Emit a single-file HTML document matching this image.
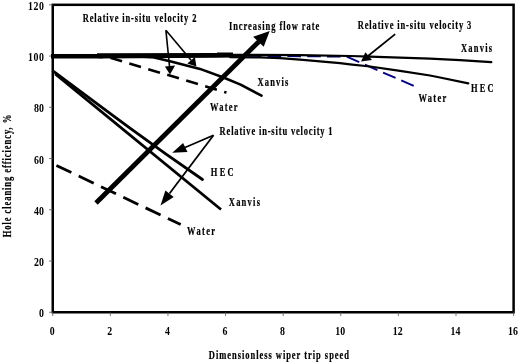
<!DOCTYPE html>
<html><head><meta charset="utf-8"><style>
html,body{margin:0;padding:0;background:#fff;}
svg{display:block;will-change:transform;}
text{font-family:"Liberation Serif",serif;font-weight:bold;font-size:11.6px;fill:#000;}
.b{stroke:#000;stroke-width:0.22px;}
</style></head><body>
<svg width="520" height="363" viewBox="0 0 520 363">
<rect x="52.75" y="4.81" width="460.85" height="307.44" fill="none" stroke="#000" stroke-width="2.5"/>
<line x1="49" y1="312.25" x2="52.75" y2="312.25" stroke="#555" stroke-width="0.8"/>
<text transform="translate(43.9,317.45) scale(0.85,1)" text-anchor="end">0</text>
<line x1="49" y1="261.01" x2="52.75" y2="261.01" stroke="#555" stroke-width="0.8"/>
<text transform="translate(43.9,266.21) scale(0.85,1)" text-anchor="end">20</text>
<line x1="49" y1="209.77" x2="52.75" y2="209.77" stroke="#555" stroke-width="0.8"/>
<text transform="translate(43.9,214.97) scale(0.85,1)" text-anchor="end">40</text>
<line x1="49" y1="158.53" x2="52.75" y2="158.53" stroke="#555" stroke-width="0.8"/>
<text transform="translate(43.9,163.73) scale(0.85,1)" text-anchor="end">60</text>
<line x1="49" y1="107.29" x2="52.75" y2="107.29" stroke="#555" stroke-width="0.8"/>
<text transform="translate(43.9,112.49) scale(0.85,1)" text-anchor="end">80</text>
<line x1="49" y1="56.05" x2="52.75" y2="56.05" stroke="#555" stroke-width="0.8"/>
<text transform="translate(28.1,61.25) scale(0.85,1)" textLength="18.71" lengthAdjust="spacing">100</text>
<line x1="49" y1="4.81" x2="52.75" y2="4.81" stroke="#555" stroke-width="0.8"/>
<text transform="translate(28.1,10.01) scale(0.85,1)" textLength="18.71" lengthAdjust="spacing">120</text>
<line x1="52.75" y1="312.25" x2="52.75" y2="316" stroke="#555" stroke-width="0.8"/>
<text transform="translate(52.15,335.4) scale(0.85,1)" text-anchor="middle">0</text>
<line x1="110.36" y1="312.25" x2="110.36" y2="316" stroke="#555" stroke-width="0.8"/>
<text transform="translate(109.76,335.4) scale(0.85,1)" text-anchor="middle">2</text>
<line x1="167.96" y1="312.25" x2="167.96" y2="316" stroke="#555" stroke-width="0.8"/>
<text transform="translate(167.36,335.4) scale(0.85,1)" text-anchor="middle">4</text>
<line x1="225.57" y1="312.25" x2="225.57" y2="316" stroke="#555" stroke-width="0.8"/>
<text transform="translate(224.97,335.4) scale(0.85,1)" text-anchor="middle">6</text>
<line x1="283.17" y1="312.25" x2="283.17" y2="316" stroke="#555" stroke-width="0.8"/>
<text transform="translate(282.57,335.4) scale(0.85,1)" text-anchor="middle">8</text>
<line x1="340.78" y1="312.25" x2="340.78" y2="316" stroke="#555" stroke-width="0.8"/>
<text transform="translate(340.18,335.4) scale(0.85,1)" text-anchor="middle">10</text>
<line x1="398.39" y1="312.25" x2="398.39" y2="316" stroke="#555" stroke-width="0.8"/>
<text transform="translate(397.79,335.4) scale(0.85,1)" text-anchor="middle">12</text>
<line x1="455.99" y1="312.25" x2="455.99" y2="316" stroke="#555" stroke-width="0.8"/>
<text transform="translate(455.39,335.4) scale(0.85,1)" text-anchor="middle">14</text>
<line x1="513.60" y1="312.25" x2="513.60" y2="316" stroke="#555" stroke-width="0.8"/>
<text transform="translate(513.00,335.4) scale(0.85,1)" text-anchor="middle">16</text>
<text class="b" transform="translate(82.70,22.30) scale(0.73,1)" textLength="155.73" lengthAdjust="spacing">Relative in-situ velocity 2</text>
<text class="b" transform="translate(228.95,29.60) scale(0.73,1)" textLength="123.77" lengthAdjust="spacing">Increasing flow rate</text>
<text class="b" transform="translate(357.70,29.20) scale(0.73,1)" textLength="155.69" lengthAdjust="spacing">Relative in-situ velocity 3</text>
<text class="b" transform="translate(460.88,51.50) scale(0.73,1)" textLength="42.81" lengthAdjust="spacing">Xanvis</text>
<text class="b" transform="translate(471.03,91.50) scale(0.73,1)" textLength="30.97" lengthAdjust="spacing">HEC</text>
<text class="b" transform="translate(418.59,101.70) scale(0.73,1)" textLength="37.76" lengthAdjust="spacing">Water</text>
<text class="b" transform="translate(257.40,86.30) scale(0.73,1)" textLength="42.34" lengthAdjust="spacing">Xanvis</text>
<text class="b" transform="translate(209.95,111.00) scale(0.73,1)" textLength="37.86" lengthAdjust="spacing">Water</text>
<text class="b" transform="translate(219.62,134.50) scale(0.73,1)" textLength="154.77" lengthAdjust="spacing">Relative in-situ velocity 1</text>
<text class="b" transform="translate(210.85,175.80) scale(0.73,1)" textLength="31.21" lengthAdjust="spacing">HEC</text>
<text class="b" transform="translate(228.79,205.90) scale(0.73,1)" textLength="42.72" lengthAdjust="spacing">Xanvis</text>
<text class="b" transform="translate(187.06,235.00) scale(0.73,1)" textLength="38.45" lengthAdjust="spacing">Water</text>
<text class="b" transform="translate(208.86,358.50) scale(0.73,1)" textLength="191.94" lengthAdjust="spacing">Dimensionless wiper trip speed</text>
<!-- axis titles -->
<text class="b" transform="translate(10.5,237.3) rotate(-90) scale(0.73,1)" textLength="167.8" lengthAdjust="spacing">Hole cleaning efficiency, %</text>
<!-- labels -->

<!-- vel-3 water blue dashed -->
<polyline points="413.7,85.9 346.5,56.6 230,55.7" fill="none" stroke="#000080" stroke-width="1.9" stroke-dasharray="13.6 6.2"/>
<!-- band near 100 -->
<polygon points="51,54.1 97,54.1 97,53.2 217,53.0 217,52.6 233,52.6 233,57.6 217,57.8 97,58.4 51,58.5" fill="#000"/>
<!-- vel-3 Xanvis -->
<polyline points="230,54.9 300,55.1 350,56 370,56.7 400,57.6 430,58.6 460,60.1 491.3,62.1" fill="none" stroke="#000" stroke-width="2.2" stroke-linecap="round" stroke-linejoin="round"/>
<!-- vel-3 HEC -->
<polyline points="230,57.1 260,57.4 280,58.2 300,59.6 320,61.3 340,63.1 350,64.3 370,66.5 400,70.8 430,75.5 440,77.5 468.3,83.4" fill="none" stroke="#000" stroke-width="2.2" stroke-linecap="round" stroke-linejoin="round"/>
<!-- vel-2 Xanvis -->
<polyline points="140,56.5 152,57.1 170,61.2 200,68.9 222.8,77.2 240.6,84.6 261.5,95.7" fill="none" stroke="#000" stroke-width="2.6" stroke-linecap="round" stroke-linejoin="round"/>
<!-- vel-2 water dashed -->
<polyline points="90.6,56.2 110.2,57.8 226.5,92.6" fill="none" stroke="#000" stroke-width="2.6" stroke-dasharray="12.2 7.6"/>
<!-- vel-1 HEC, Xanvis -->
<polyline points="53.2,71.2 110,113.3 130,128.2 165,153.4 202.5,179.5" fill="none" stroke="#000" stroke-width="2.8" stroke-linecap="round" stroke-linejoin="round"/>
<line x1="55.2" y1="73.9" x2="221" y2="209.5" stroke="#000" stroke-width="2.8"/>
<!-- vel-1 water dashed -->
<line x1="56.4" y1="165.4" x2="180.7" y2="224.6" stroke="#000" stroke-width="2.8" stroke-dasharray="16.6 8.1"/>
<!-- big arrow -->
<line x1="96" y1="203" x2="259" y2="41.5" stroke="#000" stroke-width="4.8"/>
<polygon points="269.7,31 253.2,36.7 263.7,46.8" fill="#000"/>
<!-- annotation arrows vel-2 -->
<line x1="165.9" y1="30.3" x2="169.6" y2="67" stroke="#000" stroke-width="1.6"/>
<polygon points="170,74.4 164.9,66.6 175.1,65.6" fill="#000"/>
<line x1="165.9" y1="30.3" x2="191.1" y2="60.2" stroke="#000" stroke-width="1.6"/>
<polygon points="196.4,66.4 187.3,63.4 194.9,56.9" fill="#000"/>
<!-- vel-3 annotation -->
<line x1="395.2" y1="34.1" x2="368" y2="56" stroke="#000" stroke-width="1.8"/>
<polygon points="361,61.6 365.4,52.2 372,59.9" fill="#000"/>
<!-- vel-1 annotation -->
<line x1="213.5" y1="135.25" x2="185" y2="147.5" stroke="#000" stroke-width="1.8"/>
<polygon points="172.25,152.75 183.1,143.1 187.5,151.9" fill="#000"/>
<line x1="213.5" y1="135.25" x2="169.5" y2="193.5" stroke="#000" stroke-width="1.8"/>
<polygon points="160.5,205.6 165.4,190.4 173.7,197" fill="#000"/>

</svg>
</body></html>
